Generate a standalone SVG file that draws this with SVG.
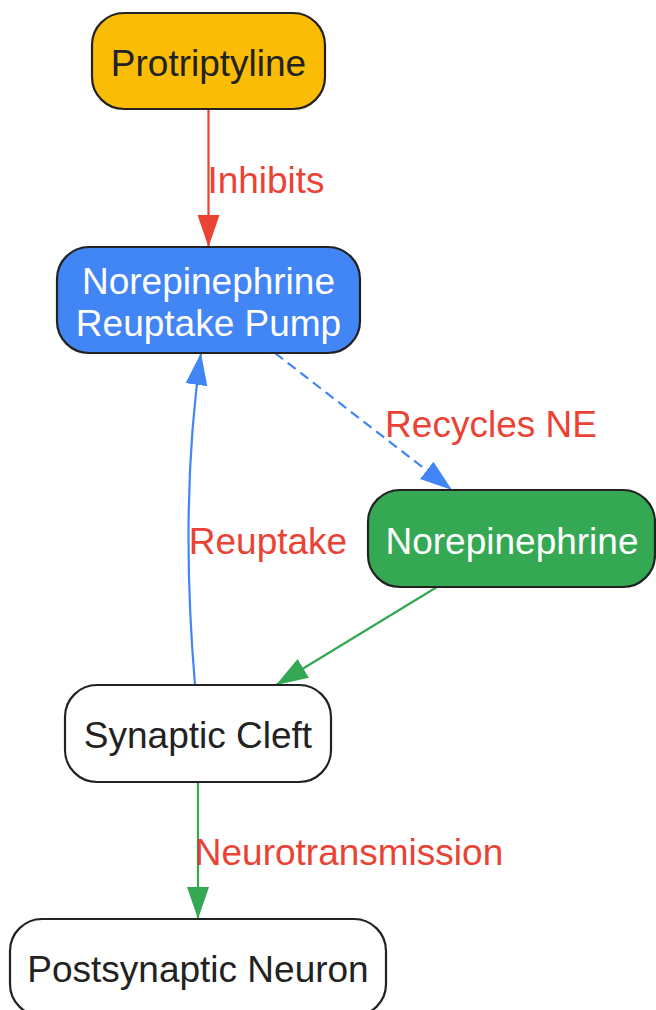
<svg xmlns="http://www.w3.org/2000/svg" width="656" height="1010" viewBox="0 0 656 1010">
<defs>
<style>
.node rect{stroke:#222;stroke-width:2.2}
.nt{font-family:"Liberation Sans",Arial,sans-serif;font-size:37px;text-anchor:middle}
.dark{fill:#222}
.light{fill:#fff}
.lbl{font-family:"Liberation Sans",Arial,sans-serif;font-size:37px;text-anchor:middle;fill:#EA4335}
.e{fill:none;stroke-width:2.2}
</style>
<marker id="ar" markerUnits="userSpaceOnUse" markerWidth="34" markerHeight="24" refX="32" refY="11" orient="auto"><path d="M0,0 L32,11 L0,22 z" fill="#EA4335"/></marker>
<marker id="ab" markerUnits="userSpaceOnUse" markerWidth="34" markerHeight="24" refX="32" refY="11" orient="auto"><path d="M0,0 L32,11 L0,22 z" fill="#4285F4"/></marker>
<marker id="ag" markerUnits="userSpaceOnUse" markerWidth="34" markerHeight="24" refX="32" refY="11" orient="auto"><path d="M0,0 L32,11 L0,22 z" fill="#34A853"/></marker>
</defs>
<rect width="656" height="1010" fill="#fff"/>
<g id="connectors">
<path class="e" d="M208.5,109 L208.5,247" stroke="#EA4335" marker-end="url(#ar)"/>
<path class="e" d="M275,353 L452,490" stroke="#4285F4" stroke-dasharray="10,6" marker-end="url(#ab)"/>
<path class="e" d="M437,587 L276,685" stroke="#34A853" marker-end="url(#ag)"/>
<path class="e" d="M195,685 C187,590 184,470 201,353" stroke="#4285F4" marker-end="url(#ab)"/>
<path class="e" d="M198,782 L198,919" stroke="#34A853" marker-end="url(#ag)"/>
<text class="lbl" x="266" y="193">Inhibits</text>
<text class="lbl" x="491" y="437">Recycles NE</text>
<text class="lbl" x="268" y="554">Reuptake</text>
<text class="lbl" x="349" y="865">Neurotransmission</text>
</g>
<g id="protriptyline" class="node">
<rect x="92" y="13" width="233" height="96" rx="32" fill="#FBBC05"/>
<text class="nt dark" x="208.5" y="76">Protriptyline</text>
</g>
<g id="pump" class="node">
<rect x="57" y="247" width="303" height="106" rx="32" fill="#4285F4"/>
<text class="nt light" x="208.5" y="294">Norepinephrine</text>
<text class="nt light" x="208.5" y="336">Reuptake Pump</text>
</g>
<g id="norepinephrine" class="node">
<rect x="368" y="490" width="287" height="97" rx="32" fill="#34A853"/>
<text class="nt light" x="512" y="554">Norepinephrine</text>
</g>
<g id="cleft" class="node">
<rect x="65" y="685" width="266" height="97" rx="32" fill="#fff"/>
<text class="nt dark" x="198" y="748">Synaptic Cleft</text>
</g>
<g id="postsynaptic" class="node">
<rect x="10" y="919" width="376" height="97" rx="32" fill="#fff"/>
<text class="nt dark" x="198" y="982">Postsynaptic Neuron</text>
</g>
</svg>
